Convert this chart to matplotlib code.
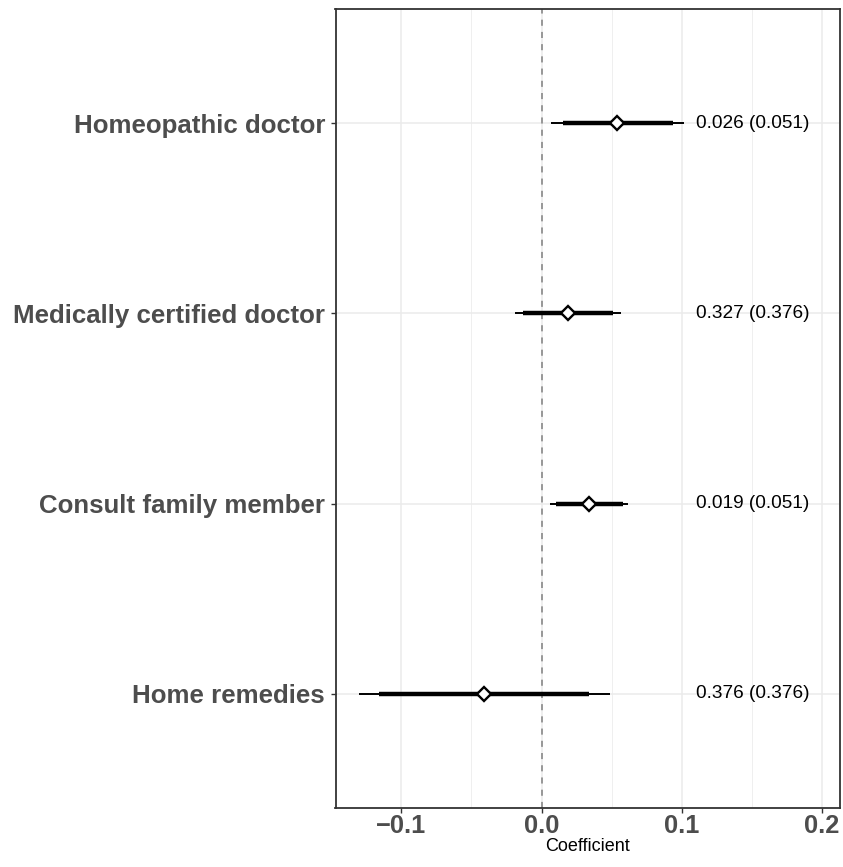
import numpy as np
import matplotlib
matplotlib.use("Agg")
import matplotlib.pyplot as plt

plt.rcParams['font.family'] = ['Liberation Sans', 'DejaVu Sans']

# data, bottom to top
labels = ["Home remedies", "Consult family member", "Medically certified doctor", "Homeopathic doctor"]
coef = [-0.041, 0.034, 0.019, 0.054]
lo95 = [-0.130, 0.006, -0.019, 0.007]
hi95 = [0.049, 0.062, 0.057, 0.102]
lo90 = [-0.116, 0.010, -0.013, 0.015]
hi90 = [0.034, 0.058, 0.051, 0.094]
notes = ["0.376 (0.376)", "0.019 (0.051)", "0.327 (0.376)", "0.026 (0.051)"]
text_x = 0.11

W, H = 843, 867
fig = plt.figure(figsize=(W / 100, H / 100), dpi=100)
ax = fig.add_axes([335.5 / W, 1 - 808 / H, (840 - 335.5) / W, (808 - 9) / H])

y = np.arange(1, len(labels) + 1)

# grid
for gx in [-0.1, 0.0, 0.1, 0.2]:
    ax.axvline(gx, color='#EBEBEB', lw=1.1, zorder=0)
for gx in [-0.05, 0.05, 0.15]:
    ax.axvline(gx, color='#EBEBEB', lw=0.55, zorder=0)
for gy in y:
    ax.axhline(gy, color='#EBEBEB', lw=1.1, zorder=0)

ax.axvline(0, color='#808080', lw=1.1, ls=(0, (4, 4)), zorder=1)

ax.hlines(y, lo95, hi95, color='black', lw=1.4, zorder=2)
ax.hlines(y, lo90, hi90, color='black', lw=3.2, zorder=3)
ax.plot(coef, y, ls='none', marker='D', ms=7, mfc='white', mec='black', mew=1.7, zorder=4)

for yi, t in zip(y, notes):
    ax.text(text_x, yi, t, ha='left', va='center', fontsize=13.7, color='black')

ax.set_xlim(-0.147, 0.213)
ax.set_ylim(0.4, 4.6)
ax.set_xticks([-0.1, 0.0, 0.1, 0.2])
ax.set_xticklabels(['\u22120.1', '0.0', '0.1', '0.2'])
ax.set_yticks(y)
ax.set_yticklabels(labels)

ax.tick_params(axis='both', length=3.5, width=1.0, color='#333333')
ax.tick_params(axis='y', pad=4, labelsize=18.6, labelcolor='#4D4D4D')
ax.tick_params(axis='x', pad=1, labelsize=18.3, labelcolor='#4D4D4D')
for lab in ax.get_yticklabels() + ax.get_xticklabels():
    lab.set_fontweight('bold')

for s in ax.spines.values():
    s.set_color('#333333')
    s.set_linewidth(1.3)

ax.set_xlabel('Coefficient', fontsize=13, color='black', labelpad=0)

fig.savefig('out.png', dpi=100)
